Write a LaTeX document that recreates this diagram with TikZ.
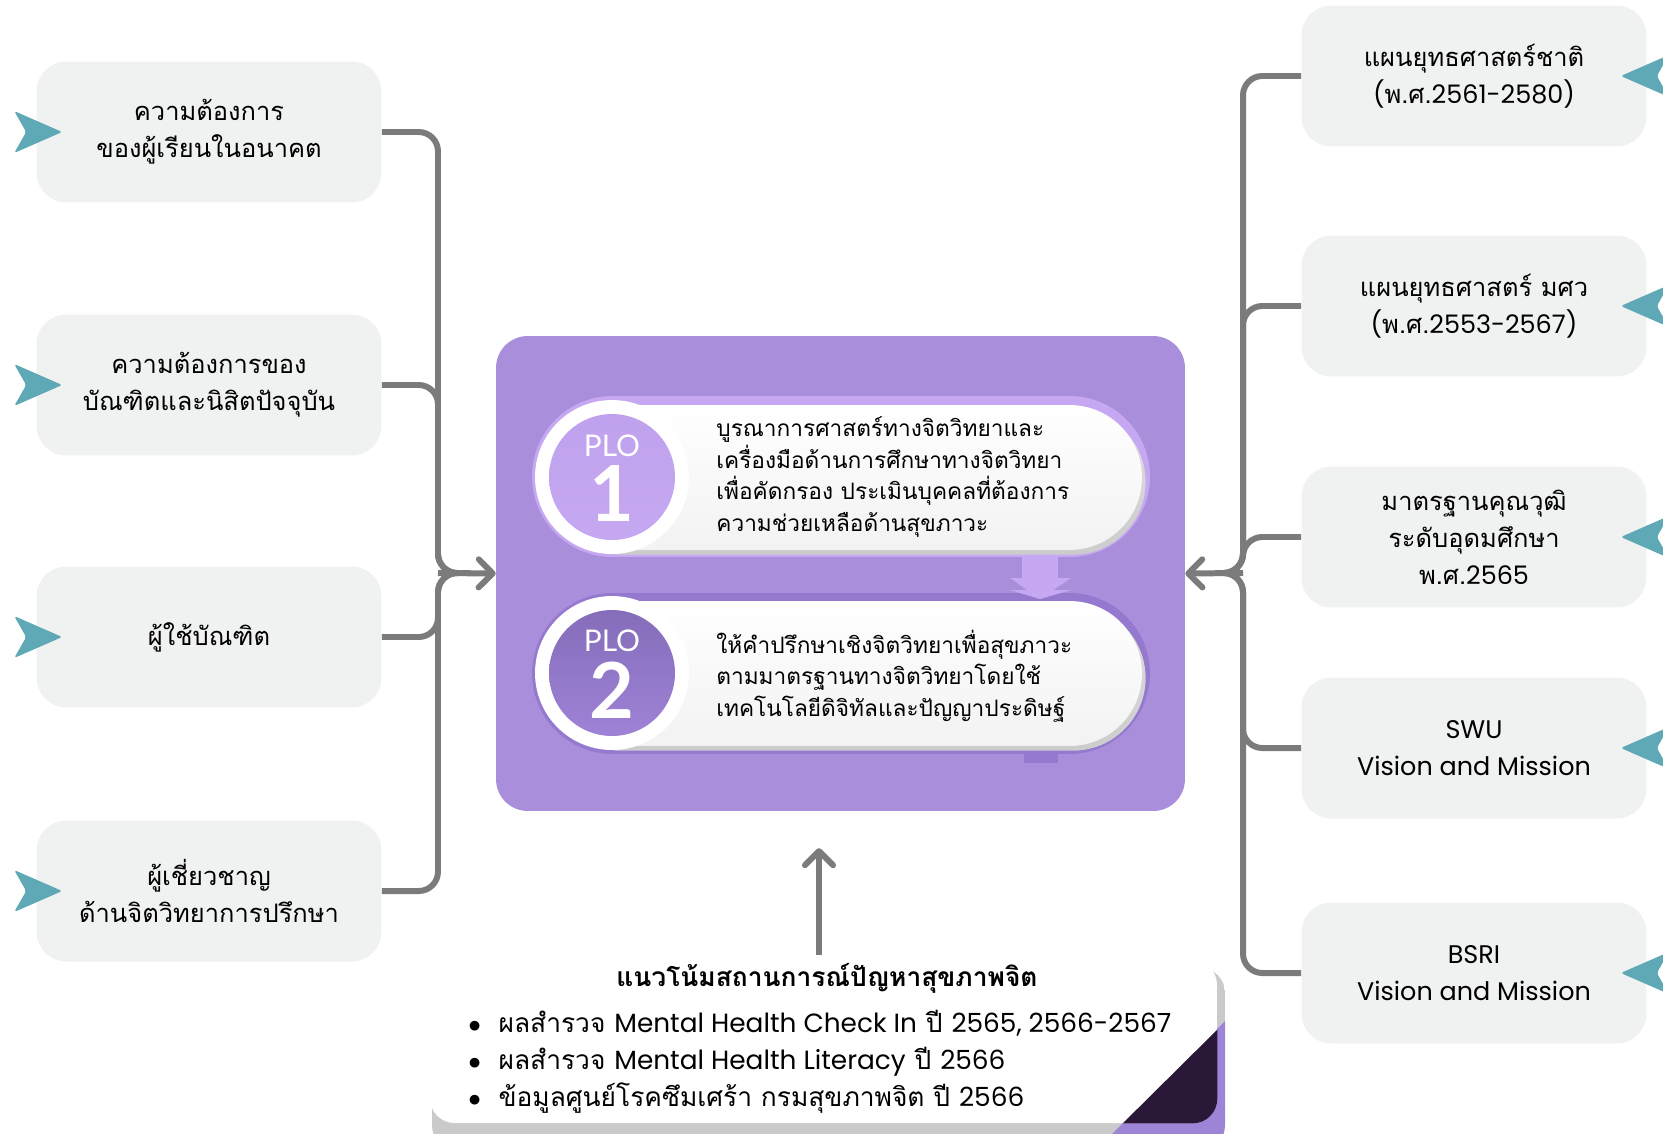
\documentclass[tikz,border=0pt]{standalone}
\usepackage{fontspec}
\setmainfont[Script=Thai]{Loma}
\newfontfamily\plofont{Lato}
\newfontfamily\latinfont[Scale=1.0]{Poppins}
\newcommand{\latn}[1]{{\latinfont #1}}
\usetikzlibrary{arrows.meta,shapes.misc}

\definecolor{boxgray}{HTML}{F0F1F1}
\definecolor{dartteal}{HTML}{5FA8B6}
\definecolor{linkgray}{HTML}{7B7B7B}
\definecolor{panelpurple}{HTML}{A98FDB}
\definecolor{ploone}{HTML}{C6A8F2}
\definecolor{plotwo}{HTML}{9479CF}
\definecolor{cornerdark}{HTML}{2A1838}
\definecolor{cornerpurple}{HTML}{9D84D6}
\definecolor{shadowgray}{HTML}{CACACA}

\tikzset{
	srcbox/.style={fill=boxgray, rounded corners=17pt, minimum width=6.9cm, minimum height=2.82cm, align=center, font=\fontsize{14.5}{21}\selectfont},
	link/.style={draw=linkgray, line width=3.4pt, rounded corners=11pt},
	linktip/.style={-{Straight Barb[length=8pt,width=16pt,round]}},
	dart/.style={fill=dartteal, rounded corners=1.5pt},
	panel/.style={fill=panelpurple, rounded corners=18pt, minimum width=13.78cm, minimum height=9.5cm},
	pill/.style={rounded rectangle, minimum width=12.36cm, minimum height=3.22cm, inner sep=0pt},
	card/.style={rounded rectangle, minimum width=11.94cm, minimum height=2.9cm, inner sep=0pt, top color=white, bottom color=gray!10},
	ring/.style={circle, fill=white, minimum size=3.08cm, inner sep=0pt},
	badge/.style={circle, minimum size=2.52cm, inner sep=0pt},
	plolabel/.style={text=white, font=\plofont\fontsize{17}{17}\selectfont},
	plonum/.style={text=white, font=\plofont\bfseries\fontsize{44}{44}\selectfont},
	plotext/.style={anchor=west, align=left, inner sep=0pt, font=\fontsize{12.9}{18}\selectfont},
	trendbox/.style={fill=white, rounded corners=14pt, minimum width=15.74cm, minimum height=3.26cm},
}

\begin{document}
\begin{tikzpicture}[x=0.02cm, y=-0.02cm]
	\useasboundingbox (0,0) rectangle (1663,1133);

	% source boxes
	\node[srcbox] (l1) at (209,132) {ความต้องการ\\ของผู้เรียนในอนาคต};
	\node[srcbox] (l2) at (209,385) {ความต้องการของ\\บัณฑิตและนิสิตปัจจุบัน};
	\node[srcbox] (l3) at (209,637) {ผู้ใช้บัณฑิต};
	\node[srcbox] (l4) at (209,891) {ผู้เชี่ยวชาญ\\ด้านจิตวิทยาการปรึกษา};

	\node[srcbox] (r1) at (1474,76) {แผนยุทธศาสตร์ชาติ\\\latn{(}พ.ศ.\latn{2561-2580)}};
	\node[srcbox] (r2) at (1474,306) {แผนยุทธศาสตร์ มศว\\\latn{(}พ.ศ.\latn{2553-2567)}};
	\node[srcbox] (r3) at (1474,537) {มาตรฐานคุณวุฒิ\\ระดับอุดมศึกษา\\พ.ศ.\latn{2565}};
	\node[srcbox] (r4) at (1474,748) {\latn{SWU}\\\latn{Vision and Mission}};
	\node[srcbox] (r5) at (1474,973) {\latn{BSRI}\\\latn{Vision and Mission}};

	\foreach \b in {l1,l2,l3,l4}
		\fill[dart] (\b.west) ++(26,0) -- ++(-48,-21) -- ++(12,21) -- ++(-12,21) -- cycle;
	\begin{scope}
		\clip (0,0) rectangle (1663,1133);
		\foreach \b in {r1,r2,r3,r4,r5}
			\fill[dart] (\b.east) ++(-26,0) -- ++(48,-21) -- ++(-12,21) -- ++(12,21) -- cycle;
	\end{scope}

	% centre panel
	\node[panel] (plo) at (840.5,573.5) {};

	\coordinate (ljoin) at (438,573);
	\coordinate (lmid) at (470,573);
	\coordinate (rjoin) at (1243,573);
	\coordinate (rmid) at (1215,573);
	\foreach \b in {l1,l2,l3,l4}
		\draw[link] (\b.east) -| (ljoin) -- (lmid);
	\foreach \b in {r1,r2,r3,r4,r5}
		\draw[link] (\b.west) -| (rjoin) -- (rmid);
	\draw[link, linktip] (ljoin) -- (plo.west);
	\draw[link, linktip] (rjoin) -- (plo.east);

	% PLO 1
	\node[pill, fill=ploone] (p1band) at (841,476.5) {};
	\fill[ploone] (1022,550) rectangle (1058,579);
	\fill[ploone] (1010,578) -- (1071,578) -- (1040,599) -- cycle;
	% PLO 2
	\node[pill, fill=plotwo] (p2band) at (841,673.5) {};
	\fill[plotwo] (1024,750) rectangle (1058,763);
	\fill[ploone] (1010,590) -- (1071,590) -- (1040,599) -- cycle;

	\node[card, fill=gray!30, top color=gray!25, bottom color=gray!40] (p1shade) at (847,482) {};
	\node[card] (p1card) at (843.5,477.5) {};
	\node[card, fill=gray!30, top color=gray!25, bottom color=gray!40] (p2shade) at (847,678) {};
	\node[card] (p2card) at (843.5,673.5) {};

	\node[ring] (p1ring) at (612,477) {};
	\node[badge, top color=ploone!85!plotwo, bottom color=ploone] (p1badge) at (612,477) {};
	\node[plolabel] (p1plo) at (612,446) {PLO};
	\node[plonum] (p1num) at (612,494) {1};
	\node[ring] (p2ring) at (612,673) {};
	\node[badge, top color=plotwo!90!black, bottom color=plotwo!80!ploone] (p2badge) at (612,673) {};
	\node[plolabel] (p2plo) at (612,641) {PLO};
	\node[plonum] (p2num) at (612,690) {2};

	\node[plotext] (p1text) at (716,477) {บูรณาการศาสตร์ทางจิตวิทยาและ\\เครื่องมือด้านการศึกษาทางจิตวิทยา\\เพื่อคัดกรอง ประเมินบุคคลที่ต้องการ\\ความช่วยเหลือด้านสุขภาวะ};
	\node[plotext] (p2text) at (716,676) {ให้คำปรึกษาเชิงจิตวิทยาเพื่อสุขภาวะ\\ตามมาตรฐานทางจิตวิทยาโดยใช้\\เทคโนโลยีดิจิทัลและปัญญาประดิษฐ์};

	% trend box
	\begin{scope}
		\clip[rounded corners=14pt] (432,968) rectangle (1225,1150);
		\fill[shadowgray] (432,968) rectangle (1225,1150);
		\fill[cornerpurple] (1103,1143) -- (1235,1011) -- (1235,1143) -- cycle;
	\end{scope}
	\node[trendbox] (trend) at (823.5,1041.5) {};
	\begin{scope}
		\clip[rounded corners=14pt] (trend.south west) rectangle (trend.north east);
		\fill[cornerdark] (1113,1133) -- (1227,1020) -- (1227,1133) -- cycle;
	\end{scope}
	\node[font=\bfseries\fontsize{15}{21}\selectfont] (trendtitle) at (827,978) {แนวโน้มสถานการณ์ปัญหาสุขภาพจิต};
	\node[anchor=west, align=left, inner sep=0pt, font=\fontsize{15}{21}\selectfont] (trendlist) at (468,1062)
		{$\bullet$\hspace{10pt}ผลสำรวจ \latn{Mental Health Check In} ปี \latn{2565, 2566-2567}\\
		 $\bullet$\hspace{10pt}ผลสำรวจ \latn{Mental Health Literacy} ปี \latn{2566}\\
		 $\bullet$\hspace{10pt}ข้อมูลศูนย์โรคซึมเศร้า กรมสุขภาพจิต ปี \latn{2566}};

	\coordinate (upbase) at (819,955);
	\draw[link, linktip, shorten >=21pt] (upbase) -- (upbase |- plo.south);
\end{tikzpicture}
\end{document}
